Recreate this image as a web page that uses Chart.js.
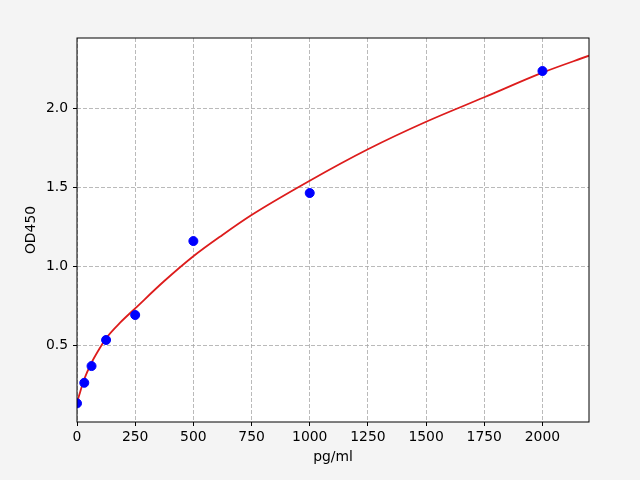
<!DOCTYPE html>
<html>
<head>
<meta charset="utf-8">
<script src="https://cdn.jsdelivr.net/npm/chart.js@4/dist/chart.umd.min.js"></script>
<style>
  html, body { margin: 0; padding: 0; background: #f4f4f4; }
  #wrap { width: 640px; height: 480px; }
</style>
</head>
<body>
<div id="wrap"><canvas id="chart" width="640" height="480"></canvas></div>
<script>
  // standards (pg/ml) and measured OD450
  const stdConc = [0, 31.25, 62.5, 125, 250, 500, 1000, 2000];
  const stdOD = [0.131, 0.261, 0.367, 0.532, 0.69, 1.158, 1.462, 2.234];

  // fitted curve
  const fitConc = [0, 5, 10, 20, 31.25, 62.5, 93.75, 125, 187.5, 250, 375, 500, 625, 750, 1000, 1250, 1500, 1750, 2000, 2200];
  const fitOD = [0.125, 0.16, 0.185, 0.235, 0.285, 0.388, 0.47, 0.543, 0.645, 0.732, 0.905, 1.062, 1.197, 1.323, 1.54, 1.739, 1.913, 2.068, 2.224, 2.331];

  const xTicks = [0, 250, 500, 750, 1000, 1250, 1500, 1750, 2000];
  const yTicks = [0.5, 1.0, 1.5, 2.0];

  const tickFont = { family: 'DejaVu Sans', size: 13.9 };

  const framePlugin = {
    id: 'frame',
    afterDatasetsDraw(chart) {
      const { ctx, chartArea } = chart;
      ctx.save();
      ctx.strokeStyle = '#000';
      ctx.lineWidth = 1;
      ctx.strokeRect(chartArea.left, chartArea.top,
        chartArea.right - chartArea.left, chartArea.bottom - chartArea.top);
      ctx.restore();
    },
  };

  const bgPlugin = {
    id: 'bg',
    beforeDraw(chart) {
      const { ctx, width, height, chartArea } = chart;
      ctx.save();
      ctx.fillStyle = '#f4f4f4';
      ctx.fillRect(0, 0, width, height);
      ctx.fillStyle = '#ffffff';
      ctx.fillRect(chartArea.left, chartArea.top,
        chartArea.right - chartArea.left, chartArea.bottom - chartArea.top);
      ctx.restore();
    },
  };

  const gridOpts = {
    color: '#a8a8a8',
    lineWidth: 0.8,
    drawTicks: true,
    tickLength: 4,
    tickColor: '#000',
    tickWidth: 1,
    tickBorderDash: [],
  };
  const borderOpts = { display: false, dash: [4, 2] };

  new Chart(document.getElementById('chart').getContext('2d'), {
    type: 'scatter',
    data: {
      datasets: [
        {
          label: 'Standards',
          data: stdConc.map((x, i) => ({ x, y: stdOD[i] })),
          backgroundColor: '#0000ff',
          borderColor: '#0000ff',
          pointRadius: 4.5,
          pointHoverRadius: 4.5,
          order: 1,
        },
        {
          type: 'line',
          label: 'Fit',
          data: fitConc.map((x, i) => ({ x, y: fitOD[i] })),
          borderColor: '#dd1c1c',
          borderWidth: 1.8,
          pointRadius: 0,
          fill: false,
          cubicInterpolationMode: 'monotone',
          order: 2,
        },
      ],
    },
    options: {
      responsive: false,
      animation: false,
      layout: { padding: { left: 0, top: 38, right: 51, bottom: 0 } },
      plugins: {
        legend: { display: false },
        tooltip: { enabled: false },
      },
      scales: {
        x: {
          type: 'linear',
          min: 0,
          max: 2200,
          afterFit(scale) { scale.height = 58; },
          afterBuildTicks(scale) { scale.ticks = xTicks.map((v) => ({ value: v })); },
          grid: gridOpts,
          border: borderOpts,
          ticks: { font: tickFont, color: '#000', padding: 3, maxRotation: 0, callback: (v) => String(v) },
          title: {
            display: true,
            text: 'pg/ml',
            font: tickFont,
            color: '#000',
            padding: { top: 0, bottom: 14 },
          },
        },
        y: {
          type: 'linear',
          min: 0.013,
          max: 2.443,
          afterFit(scale) { scale.width = 77; },
          afterBuildTicks(scale) { scale.ticks = yTicks.map((v) => ({ value: v })); },
          grid: gridOpts,
          border: borderOpts,
          ticks: { font: tickFont, color: '#000', padding: 5, callback: (v) => v.toFixed(1) },
          title: {
            display: true,
            text: 'OD450',
            font: tickFont,
            color: '#000',
            padding: { top: 23, bottom: 0 },
          },
        },
      },
    },
    plugins: [bgPlugin, framePlugin],
  });
</script>
</body>
</html>
